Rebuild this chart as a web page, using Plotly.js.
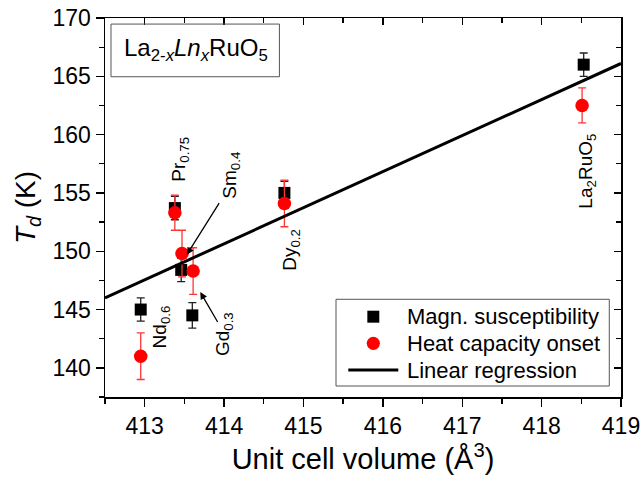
<!DOCTYPE html>
<html>
<head>
<meta charset="utf-8">
<script src="https://cdn.plot.ly/plotly-3.0.1.min.js"></script>
<style>html,body{margin:0;padding:0;background:#fff;}#chart{width:642px;height:482px;}</style>
</head>
<body>
<div id="chart"></div>
<script>
// Data
const magnX = [412.95, 413.38, 413.46, 413.60, 414.76, 418.53];
const magnY = [145.0, 153.7, 148.4, 144.5, 155.0, 166.0];
const magnErr = [1.0, 1.0, 1.0, 1.1, 1.0, 1.0];

const heatX = [412.95, 413.38, 413.47, 413.61, 414.76, 418.51];
const heatY = [141.0, 153.3, 149.8, 148.3, 154.1, 162.5];
const heatErr = [2.0, 1.5, 2.0, 2.0, 2.0, 1.5];

const fitX = [412.5, 419.0];
const fitY = [146.0, 166.1];

const legendNames = ['Magn. susceptibility', 'Heat capacity onset', 'Linear regression'];

const labelTexts = ['Pr<sub>0.75</sub>', 'Sm<sub>0.4</sub>', 'Nd<sub>0.6</sub>', 'Gd<sub>0.3</sub>', 'Dy<sub>0.2</sub>', 'La<sub>2</sub>RuO<sub>5</sub>'];
const labelX = [413.44, 414.09, 413.21, 414.00, 414.84, 418.57];
const labelY = [157.9, 156.5, 143.5, 142.9, 150.1, 156.9];

const arrowHeadX = [413.53, 413.70];
const arrowHeadY = [149.7, 146.5];
const arrowTailX = [413.95, 413.93];
const arrowTailY = [154.25, 143.8];

const xRange = [412.5, 419];
const yRange = [137.5, 170];

const FONT = 'Liberation Sans, Arial, sans-serif';

const traces = [
  {
    x: magnX, y: magnY, mode: 'markers', name: legendNames[0], showlegend: false,
    marker: {symbol: 'square', size: 12, color: '#000'},
    error_y: {type: 'data', array: magnErr, visible: true, color: '#222', thickness: 1.3, width: 4}
  },
  {
    x: heatX, y: heatY, mode: 'markers', name: legendNames[1], showlegend: false,
    marker: {symbol: 'circle', size: 13.5, color: '#ff0000'},
    error_y: {type: 'data', array: heatErr, visible: true, color: '#ff3535', thickness: 1.3, width: 4}
  },
  {
    x: fitX, y: fitY, mode: 'lines', name: legendNames[2], showlegend: false,
    line: {color: '#000', width: 3}
  },
  {x: [], y: [], xaxis: 'x2', yaxis: 'y2', showlegend: false, hoverinfo: 'skip'}
];

const annotations = [];
for (let i = 0; i < labelTexts.length; i++) {
  annotations.push({
    x: labelX[i], y: labelY[i], xref: 'x', yref: 'y', text: labelTexts[i],
    textangle: -90, showarrow: false, xanchor: 'center', yanchor: 'middle',
    font: {family: FONT, size: 19, color: '#000'}
  });
}
for (let i = 0; i < arrowHeadX.length; i++) {
  annotations.push({
    x: arrowHeadX[i], y: arrowHeadY[i], ax: arrowTailX[i], ay: arrowTailY[i],
    xref: 'x', yref: 'y', axref: 'x', ayref: 'y', text: '', showarrow: true,
    arrowhead: 2, arrowsize: 1.1, arrowwidth: 1.3, arrowcolor: '#000'
  });
}
// inset formula
annotations.push({
  x: 0.176, y: 0.918, xref: 'paper', yref: 'paper', xanchor: 'center', yanchor: 'middle',
  text: 'La<sub>2-<i>x</i></sub><i>Ln</i><sub><i>x</i></sub>RuO<sub>5</sub>',
  showarrow: false, font: {family: FONT, size: 24, color: '#000'}
});

// legend (box, keys, texts) in plot-area fractions
const legRowY = [0.2119, 0.1417, 0.0712];
const legKeyX = 0.520;
for (let i = 0; i < legendNames.length; i++) {
  annotations.push({
    x: 0.5814, y: legRowY[i], xref: 'paper', yref: 'paper', xanchor: 'left', yanchor: 'middle',
    text: legendNames[i], showarrow: false, font: {family: FONT, size: 22, color: '#000'}
  });
}

const shapes = [
  {type: 'rect', xref: 'paper', yref: 'paper', x0: 0.0116, x1: 0.338, y0: 0.845, y1: 0.984,
   line: {color: '#555', width: 1}, fillcolor: 'rgba(0,0,0,0)'},
  {type: 'rect', xref: 'paper', yref: 'paper', x0: 0.4477, x1: 0.9773, y0: 0.029, y1: 0.2578,
   line: {color: '#555', width: 1}, fillcolor: '#fff', layer: 'above'},
  {type: 'rect', xref: 'paper', yref: 'paper',
   x0: legKeyX - 0.0116, x1: legKeyX + 0.0116, y0: legRowY[0] - 0.0158, y1: legRowY[0] + 0.0158,
   line: {width: 0}, fillcolor: '#000', layer: 'above'},
  {type: 'circle', xref: 'paper', yref: 'paper',
   x0: legKeyX - 0.0128, x1: legKeyX + 0.0128, y0: legRowY[1] - 0.0174, y1: legRowY[1] + 0.0174,
   line: {width: 0}, fillcolor: '#ff0000', layer: 'above'},
  {type: 'line', xref: 'paper', yref: 'paper',
   x0: 0.4715, x1: 0.5684, y0: legRowY[2], y1: legRowY[2],
   line: {color: '#000', width: 3}, layer: 'above'}
];

const layout = {
  width: 642, height: 482,
  margin: {l: 105, r: 21, t: 18, b: 85},
  paper_bgcolor: '#fff', plot_bgcolor: '#fff',
  font: {family: FONT, color: '#000'},
  showlegend: false,
  xaxis: {
    range: xRange, showgrid: false, zeroline: false,
    showline: true, linecolor: '#000', linewidth: 1.5,
    ticks: 'outside', ticklen: 8, tickwidth: 1.3, tickcolor: '#000', dtick: 1, tick0: 413,
    minor: {ticks: 'outside', ticklen: 5, dtick: 0.5, tickcolor: '#000', tickwidth: 1.3},
    tickfont: {family: FONT, size: 23},
    title: {text: 'Unit cell volume (Å<sup>3</sup>)', font: {family: FONT, size: 29}, standoff: 10}
  },
  yaxis: {
    range: yRange, showgrid: false, zeroline: false,
    showline: true, linecolor: '#000', linewidth: 1.5,
    ticks: 'outside', ticklen: 8, tickwidth: 1.3, tickcolor: '#000', dtick: 5, tick0: 140,
    minor: {ticks: 'outside', ticklen: 5, dtick: 2.5, tickcolor: '#000', tickwidth: 1.3},
    tickfont: {family: FONT, size: 23},
    title: {text: '<i>T</i><sub><i>d</i></sub> (K)', font: {family: FONT, size: 28}, standoff: 8}
  },
  xaxis2: {
    range: xRange, overlaying: 'x', side: 'top', anchor: 'y2',
    showgrid: false, zeroline: false, showline: true, linecolor: '#000', linewidth: 1.5,
    ticks: 'inside', ticklen: 7, tickwidth: 1.3, tickcolor: '#000', dtick: 1, tick0: 413,
    minor: {ticks: 'inside', ticklen: 5, dtick: 0.5, tickcolor: '#000', tickwidth: 1.3},
    showticklabels: false
  },
  yaxis2: {
    range: yRange, overlaying: 'y', side: 'right', anchor: 'x2',
    showgrid: false, zeroline: false, showline: true, linecolor: '#000', linewidth: 1.5,
    ticks: 'inside', ticklen: 7, tickwidth: 1.3, tickcolor: '#000', dtick: 5, tick0: 140,
    minor: {ticks: 'inside', ticklen: 5, dtick: 2.5, tickcolor: '#000', tickwidth: 1.3},
    showticklabels: false
  },
  shapes: shapes,
  annotations: annotations
};

Plotly.newPlot('chart', traces, layout, {staticPlot: true, displayModeBar: false});
</script>
</body>
</html>
